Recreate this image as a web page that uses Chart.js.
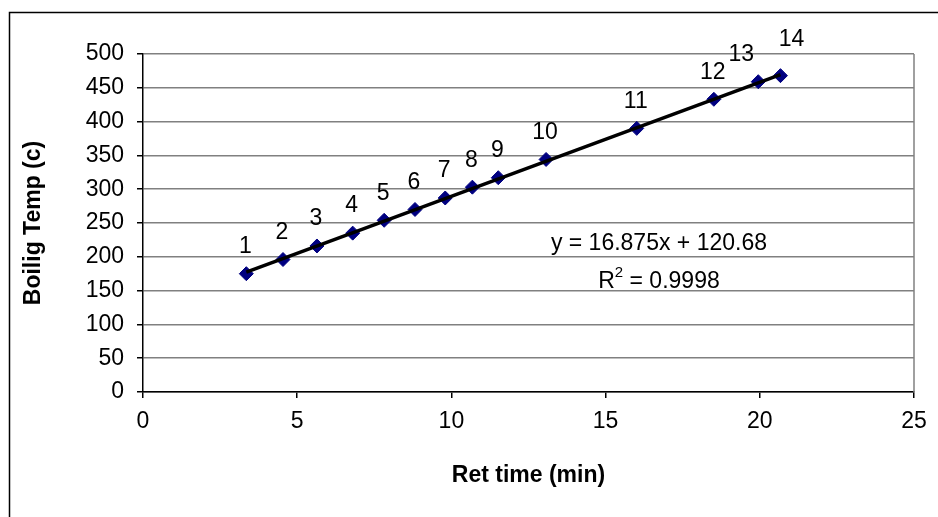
<!DOCTYPE html>
<html>
<head>
<meta charset="utf-8">
<script src="https://cdn.jsdelivr.net/npm/chart.js@4"></script>
<style>
  html, body { margin: 0; padding: 0; background: #fff; }
  #wrap { width: 938px; height: 517px; }
</style>
</head>
<body>
<div id="wrap"><canvas id="chartBp"></canvas></div>
<script>
// values
const pointLabels = ['1', '2', '3', '4', '5', '6', '7', '8', '9', '10', '11', '12', '13', '14'];
const retTime = [3.35, 4.54, 5.64, 6.80, 7.82, 8.82, 9.80, 10.68, 11.52, 13.07, 16.01, 18.51, 19.95, 20.67];
const boilTemp = [175, 196, 216, 235, 254, 270, 287, 303, 317, 344, 390, 433, 459, 468];
const slope = 16.875;
const intercept = 120.68;
const eqText = 'y = 16.875x + 120.68';
const r2Text = '0.9998';

const FONT = "'Liberation Sans', Arial, sans-serif";
Chart.defaults.font.family = FONT;
Chart.defaults.font.size = 23;
Chart.defaults.color = '#000';

const xMin = Math.min(...retTime);
const xMax = Math.max(...retTime);
const trend = [
  { x: xMin, y: slope * xMin + intercept },
  { x: xMax, y: slope * xMax + intercept }
];

// the last two labels were nudged apart in the original
const labelNudge = { 12: [-16, 0], 13: [12, -9] };

const extras = {
  id: 'extras',
  beforeDraw(chart) {
    const ctx = chart.ctx;
    ctx.save();
    ctx.strokeStyle = '#000';
    ctx.lineWidth = 1.5;
    ctx.strokeRect(9.5, 12.5, 1000, 1000);
    ctx.restore();
  },
  afterDatasetsDraw(chart) {
    const ctx = chart.ctx;
    const a = chart.chartArea;
    const xs = chart.scales.x, ys = chart.scales.y;
    ctx.save();
    ctx.strokeStyle = '#808080';
    ctx.lineWidth = 1.5;
    ctx.beginPath();
    ctx.moveTo(a.right, a.top);
    ctx.lineTo(a.right, a.bottom);
    ctx.stroke();

    // point numbers
    ctx.fillStyle = '#000';
    ctx.font = '23px ' + FONT;
    ctx.textAlign = 'center';
    ctx.textBaseline = 'middle';
    const meta = chart.getDatasetMeta(1);
    meta.data.forEach((pt, i) => {
      const n = labelNudge[i] || [0, 0];
      ctx.fillText(pointLabels[i], pt.x - 1 + n[0], pt.y - 27 + n[1]);
    });

    // trendline equation
    const cx = xs.getPixelForValue(16.73);
    ctx.fillText(eqText, cx, ys.getPixelForValue(220));
    const ry = ys.getPixelForValue(163);
    const p1 = 'R', p3 = ' = ' + r2Text;
    const w1 = ctx.measureText(p1).width, w3 = ctx.measureText(p3).width;
    ctx.font = '15px ' + FONT;
    const w2 = ctx.measureText('2').width;
    const sx = cx - (w1 + w2 + w3) / 2;
    ctx.textAlign = 'left';
    ctx.font = '23px ' + FONT;
    ctx.fillText(p1, sx, ry);
    ctx.font = '15px ' + FONT;
    ctx.fillText('2', sx + w1, ry - 9);
    ctx.font = '23px ' + FONT;
    ctx.fillText(p3, sx + w1 + w2, ry);
    ctx.restore();
  }
};

const ctxBp = document.querySelector('#chartBp').getContext('2d');
const bpChart = new Chart(ctxBp, {
  type: 'scatter',
  data: {
    datasets: [{
      type: 'line',
      label: 'Trend',
      data: trend,
      borderColor: '#000',
      borderWidth: 3.5,
      pointRadius: 0,
      fill: false
    }, {
      label: 'Boiling temp',
      data: retTime.map((x, i) => ({ x: x, y: boilTemp[i] })),
      backgroundColor: '#000080',
      borderColor: '#000080',
      pointStyle: 'rectRot',
      pointRadius: 7,
      pointHoverRadius: 7
    }]
  },
  options: {
    responsive: true,
    maintainAspectRatio: false,
    animation: false,
    layout: { padding: { left: 0, top: 54, right: 24, bottom: 0 } },
    plugins: {
      legend: { display: false },
      tooltip: { enabled: false }
    },
    scales: {
      x: {
        type: 'linear',
        min: 0,
        max: 25,
        afterFit(scale) { scale.height = 125; },
        ticks: { stepSize: 5, padding: 10, color: '#000' },
        grid: { drawOnChartArea: false, tickColor: '#000', tickLength: 6, lineWidth: 1.5 },
        border: { color: '#000', width: 1.5 },
        title: {
          display: true,
          text: 'Ret time (min)',
          font: { weight: 'bold', size: 23 },
          padding: { top: 28, bottom: 28 }
        }
      },
      y: {
        min: 0,
        max: 500,
        afterFit(scale) { scale.width = 143; },
        ticks: { stepSize: 50, padding: 13, color: '#000' },
        grid: { color: '#808080', lineWidth: 1.5, tickColor: '#000', tickLength: 6 },
        border: { color: '#000', width: 1.5 },
        title: {
          display: true,
          text: 'Boilig Temp (c)',
          font: { weight: 'bold', size: 23 },
          padding: { top: 20, bottom: 20 }
        }
      }
    }
  },
  plugins: [extras]
});
</script>
</body>
</html>
